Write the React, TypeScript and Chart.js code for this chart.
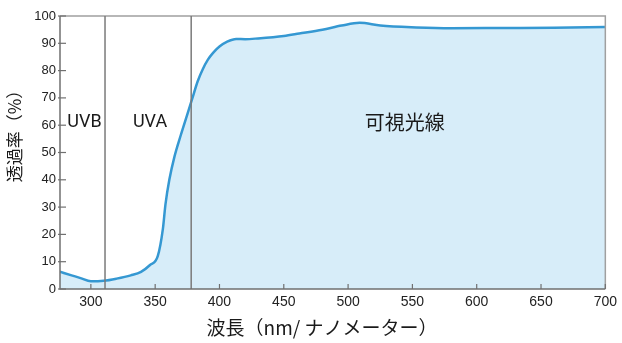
import React, { useEffect, useRef } from "react";
import { Chart, registerables } from "chart.js";

Chart.register(...registerables);

const wavelengths = [276, 285, 292, 300, 310, 320, 331, 339, 346, 352, 356, 358, 361, 365, 370, 375, 379, 383, 387, 391, 395, 400, 406, 413, 420, 430, 450, 462, 480, 495, 509, 525, 553, 580, 620, 660, 700];
const transmittance = [6.3, 5, 4, 2.8, 3, 3.8, 5, 6.3, 8.8, 12, 22, 31, 40, 48.5, 56.5, 64, 70, 76, 80.5, 84, 86.5, 88.8, 90.6, 91.6, 91.5, 91.8, 92.7, 93.6, 95, 96.5, 97.5, 96.5, 95.8, 95.5, 95.6, 95.7, 96];
const xTickValues = [300, 350, 400, 450, 500, 550, 600, 650, 700];
const yTickValues = [0, 10, 20, 30, 40, 50, 60, 70, 80, 90, 100];
const bandBoundaries = [311, 378];
const bandLabels = [
  { text: "UVB", x: 295, y: 61, font: "18px Roboto" },
  { text: "UVA", x: 346, y: 61, font: "18px Roboto" },
  { text: "可視光線", x: 544, y: 61, font: "20px 'Noto Sans CJK JP'" },
];
const xTitle = "波長（nm/ ナノメーター）";
const yTitle = "透過率（%）";

export default function App() {
  const ref = useRef<HTMLCanvasElement>(null);
  useEffect(() => {
    if (!ref.current) return;
    const decor = {
      id: "decor",
      afterDatasetsDraw(chart: any) {
        const { ctx, chartArea, scales } = chart;
        const xs = scales.x;
        const ys = scales.y;
        ctx.save();
        ctx.strokeStyle = "#a0a0a0";
        ctx.lineWidth = 1.5;
        ctx.beginPath();
        ctx.moveTo(chartArea.left, chartArea.top);
        ctx.lineTo(chartArea.right, chartArea.top);
        ctx.lineTo(chartArea.right, chartArea.bottom);
        ctx.stroke();
        ctx.strokeStyle = "#7a7a7a";
        ctx.lineWidth = 1.5;
        bandBoundaries.forEach((b) => {
          const px = xs.getPixelForValue(b);
          ctx.beginPath();
          ctx.moveTo(px, chartArea.top);
          ctx.lineTo(px, chartArea.bottom);
          ctx.stroke();
        });
        ctx.strokeStyle = "#707070";
        ctx.lineWidth = 1.5;
        ctx.beginPath();
        ctx.moveTo(chartArea.left, chartArea.top);
        ctx.lineTo(chartArea.left, chartArea.bottom);
        ctx.lineTo(chartArea.right, chartArea.bottom);
        ctx.stroke();
        ctx.lineWidth = 1.2;
        yTickValues.forEach((v) => {
          const py = ys.getPixelForValue(v);
          ctx.beginPath();
          ctx.moveTo(chartArea.left - 2, py);
          ctx.lineTo(chartArea.left + 6, py);
          ctx.stroke();
        });
        xTickValues.forEach((v) => {
          const px = xs.getPixelForValue(v);
          ctx.beginPath();
          ctx.moveTo(px, chartArea.bottom);
          ctx.lineTo(px, chartArea.bottom - 5);
          ctx.stroke();
        });
        ctx.fillStyle = "#1a1a1a";
        ctx.textAlign = "center";
        ctx.textBaseline = "middle";
        bandLabels.forEach((l) => {
          ctx.font = l.font;
          ctx.fillText(l.text, xs.getPixelForValue(l.x), ys.getPixelForValue(l.y));
        });
        ctx.font = "19px 'Noto Sans CJK JP'";
        ctx.fillStyle = "#1a1a1a";
        ctx.fillText(xTitle, 322, 328);
        ctx.translate(15, 132);
        ctx.rotate(-Math.PI / 2);
        ctx.font = "17px 'Noto Sans CJK JP'";
        ctx.fillText(yTitle, 0, 0);
        ctx.restore();
      },
    };
    const chart = new Chart(ref.current, {
      type: "line",
      data: {
        datasets: [
          {
            data: wavelengths.map((w, i) => ({ x: w, y: transmittance[i] })),
            borderColor: "#3598d2",
            borderWidth: 2.5,
            backgroundColor: "#d7edf9",
            fill: "origin",
            pointRadius: 0,
            cubicInterpolationMode: "monotone",
          },
        ],
      },
      options: {
        animation: false,
        responsive: false,
        layout: { padding: { left: 0, top: 16, right: 14, bottom: 0 } },
        plugins: { legend: { display: false }, tooltip: { enabled: false } },
        scales: {
          x: {
            type: "linear",
            min: 276,
            max: 700,
            afterBuildTicks: (s: any) => {
              s.ticks = xTickValues.map((v) => ({ value: v }));
            },
            afterFit: (s: any) => {
              s.height = 54;
            },
            grid: { display: false, drawTicks: false },
            border: { display: false },
            ticks: { padding: 5, color: "#222", font: { family: "'Liberation Sans', Arial", size: 14 } },
          },
          y: {
            min: 0,
            max: 100,
            afterBuildTicks: (s: any) => {
              s.ticks = yTickValues.map((v) => ({ value: v }));
            },
            afterFit: (s: any) => {
              s.width = 60;
            },
            grid: { display: false, drawTicks: false },
            border: { display: false },
            ticks: { padding: 4, color: "#222", font: { family: "'Liberation Sans', Arial", size: 13 } },
          },
        },
      },
      plugins: [decor],
    });
    return () => chart.destroy();
  }, []);
  return (
    <div style={{ position: "fixed", left: 0, top: 0, width: 622, height: 343, background: "#fff" }}>
      <canvas ref={ref} width={622} height={343} style={{ width: 622, height: 343 }} />
    </div>
  );
}
